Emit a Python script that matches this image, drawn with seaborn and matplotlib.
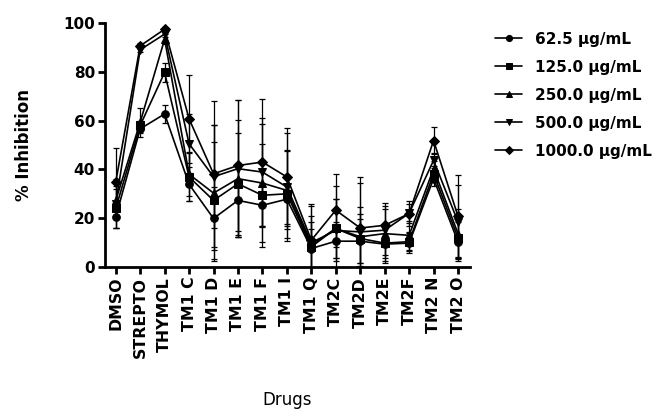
import numpy as np
import pandas as pd
import seaborn as sns
import matplotlib
matplotlib.use("Agg")
import matplotlib.pyplot as plt

drugs = ["DMSO", "STREPTO", "THYMOL", "TM1 C", "TM1 D", "TM1 E", "TM1 F", "TM1 I",
         "TM1 Q", "TM2C", "TM2D", "TM2E", "TM2F", "TM2 N", "TM2 O"]
conc_labels = ["62.5 µg/mL", "125.0 µg/mL", "250.0 µg/mL", "500.0 µg/mL", "1000.0 µg/mL"]

# mean % inhibition per concentration
c62 = [20.5, 56.6, 62.7, 33.9, 19.9, 27.3, 25.3, 27.8, 7.6, 10.6, 10.6, 9.4, 9.8, 36.2, 10.3]
c125 = [24.0, 58.0, 79.7, 36.9, 27.3, 34.1, 29.4, 30.0, 8.3, 15.8, 11.7, 9.8, 10.4, 38.2, 12.0]
c250 = [27.3, 59.3, 93.3, 38.0, 30.3, 36.2, 34.4, 31.4, 9.0, 15.8, 12.4, 13.7, 13.0, 40.3, 13.7]
c500 = [26.0, 89.0, 95.4, 50.5, 37.0, 40.3, 38.9, 32.8, 10.0, 15.0, 14.4, 15.1, 22.0, 43.7, 18.5]
c1000 = [34.8, 90.6, 97.4, 60.7, 38.2, 41.6, 43.0, 36.9, 11.0, 23.3, 16.0, 17.1, 21.9, 51.8, 20.8]

# error bars (SD)
e62 = [4.5, 1.5, 3.5, 7, 13, 15, 9, 10, 8, 8, 9, 7, 4, 3, 8]
e125 = [8, 2, 4, 10, 24, 21, 21, 18, 10, 12, 10, 8, 4, 3, 8]
e250 = [6, 6, 2, 9, 28, 24, 24, 16, 12, 12, 12, 10, 6, 3, 10]
e500 = [10, 1, 1, 12, 21, 28, 22, 22, 15, 18, 20, 10, 4, 3, 15]
e1000 = [14, 1, 1, 18, 30, 27, 26, 20, 15, 15, 21, 9, 5, 5.5, 17]

means = [c62, c125, c250, c500, c1000]
errs = [e62, e125, e250, e500, e1000]
markers = ["o", "s", "^", "v", "D"]
msizes = [5.5, 5.5, 5.5, 5.5, 5]

rows = []
for lab, m, e in zip(conc_labels, means, errs):
    for d, v, s in zip(drugs, m, e):
        rows.append({"Drugs": d, "inh": v, "sd": s, "conc": lab})
df = pd.DataFrame(rows)

sns.set_style("ticks", {"text.color": "black", "axes.labelcolor": "black",
                        "xtick.color": "black", "ytick.color": "black",
                        "axes.edgecolor": "black"})
plt.rcParams["font.family"] = ["DejaVu Sans"]

fig = plt.figure(figsize=(6.67, 4.16), dpi=100)
ax = fig.add_axes([0.157, 0.358, 0.548, 0.587])

xs = np.arange(len(drugs))
for i, lab in enumerate(conc_labels):
    sub = df[df.conc == lab]
    ax.errorbar(xs, sub.inh, yerr=sub.sd, fmt="none", ecolor="black",
                elinewidth=0.9, capsize=2, capthick=0.9, zorder=2)
    sns.lineplot(x=xs, y=sub.inh.values, ax=ax, color="black", lw=1.2,
                 marker=markers[i], markersize=msizes[i], markeredgecolor="black",
                 label=lab, zorder=3)

ax.set_xlim(-0.45, 14.5)
ax.set_ylim(0, 100)
ax.set_yticks([0, 20, 40, 60, 80, 100])
ax.set_xticks(xs)
ax.set_xticklabels(drugs, rotation=90, fontweight="bold", fontsize=11.3)
for t in ax.get_yticklabels():
    t.set_fontweight("bold")
    t.set_fontsize(11)
ax.set_ylabel("% Inhibition", fontweight="bold", fontsize=12, labelpad=22)
ax.set_xlabel("Drugs", fontsize=12, labelpad=24)
sns.despine(ax=ax)
for sp in ["left", "bottom"]:
    ax.spines[sp].set_linewidth(2)
ax.tick_params(width=2, length=5, pad=2)

leg = ax.legend(loc="upper left", bbox_to_anchor=(1.03, 1.02), frameon=False,
                handlelength=1.8, labelspacing=0.85, markerscale=0.8,
                prop={"weight": "bold", "size": 11})

fig.savefig("out.png", dpi=100)
